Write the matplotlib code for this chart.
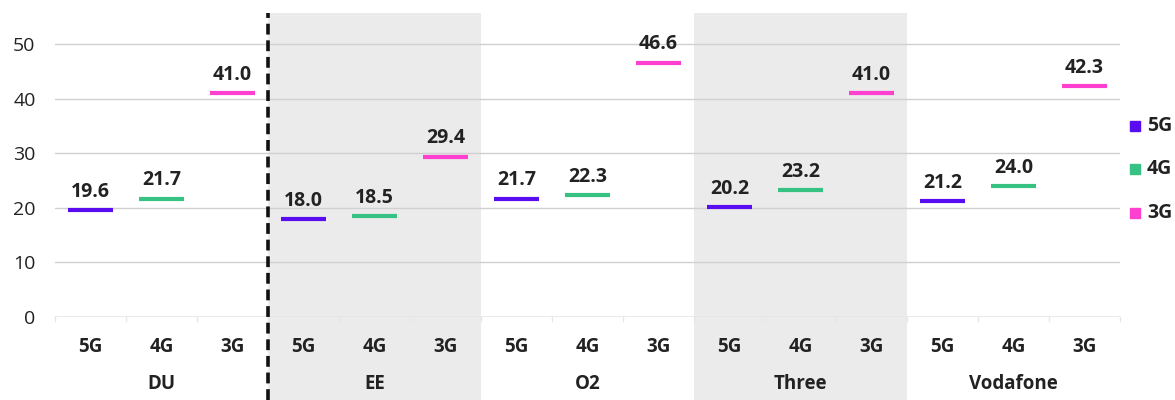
import matplotlib.pyplot as plt
import matplotlib.transforms as mtransforms

plt.rcParams['font.family'] = ['Open Sans', 'DejaVu Sans']

operators = ['DU', 'EE', 'O2', 'Three', 'Vodafone']
techs = ['5G', '4G', '3G']
vals_5g = [19.6, 18.0, 21.7, 20.2, 21.2]
vals_4g = [21.7, 18.5, 22.3, 23.2, 24.0]
vals_3g = [41.0, 29.4, 46.6, 41.0, 42.3]
colors = {'5G': '#5A0CF0', '4G': '#36C283', '3G': '#FF3FCF'}

series = {'5G': vals_5g, '4G': vals_4g, '3G': vals_3g}

fig = plt.figure(figsize=(11.75, 4), dpi=100)
ax = fig.add_axes([55 / 1175, 83 / 400, 1065 / 1175, 304 / 400])
ax.set_xlim(-0.5, 14.5)
ax.set_ylim(0, 55.7)

trans = mtransforms.blended_transform_factory(ax.transData, ax.transAxes)
bottom = -83 / 304

# shaded groups
for g in [1, 3]:
    ax.add_patch(plt.Rectangle((g * 3 - 0.5, bottom), 3, 1 - bottom, transform=trans,
                               color='#EBEBEB', zorder=0, clip_on=False, lw=0))

# gridlines
for y in [10, 20, 30, 40, 50]:
    ax.axhline(y, color='#D0D0D0', lw=1, zorder=1)
ax.axhline(0, color='#E6E6E6', lw=1.2, zorder=1)
for i in range(16):
    ax.plot([i - 0.5, i - 0.5], [0, -0.012], transform=trans, color='#E6E6E6',
            lw=1, clip_on=False)

# markers + labels
for gi, op in enumerate(operators):
    for ti, t in enumerate(techs):
        x = gi * 3 + ti
        v = series[t][gi]
        ax.plot([x - 0.31, x + 0.31], [v, v], color=colors[t], lw=3,
                solid_capstyle='butt', zorder=3)
        ax.text(x, v + 1.5, f'{v:.1f}', ha='center', va='bottom', fontsize=14,
                fontweight='bold', color='#222222', zorder=4)
        ax.text(x, -0.1, t, transform=trans, ha='center', va='center',
                fontsize=13.5, fontweight='bold', color='#222222')
    ax.text(gi * 3 + 1, -0.22, op, transform=trans, ha='center', va='center',
            fontsize=13.5, fontweight='bold', color='#222222')

# dashed divider
ax.plot([2.5, 2.5], [bottom, 1], transform=trans, color='#111111', lw=2.6,
        ls=(0, (3, 1.6)), clip_on=False, zorder=5)

ax.set_yticks([0, 10, 20, 30, 40, 50])
ax.set_xticks([])
ax.tick_params(axis='y', length=0, labelsize=14, labelcolor='#222222', pad=14)
for s in ax.spines.values():
    s.set_visible(False)

# legend
for k, t in enumerate(techs):
    yy = 1 - (125 + k * 43.5) / 400
    fig.patches.append(plt.Rectangle((1130 / 1175, yy - 0.014), 10 / 1175, 10 / 400,
                                     transform=fig.transFigure, color=colors[t]))
    fig.text(1147 / 1175, yy - 0.002, t, ha='left', va='center', fontsize=14,
             fontweight='bold', color='#222222')

fig.savefig('out.png', dpi=100)
